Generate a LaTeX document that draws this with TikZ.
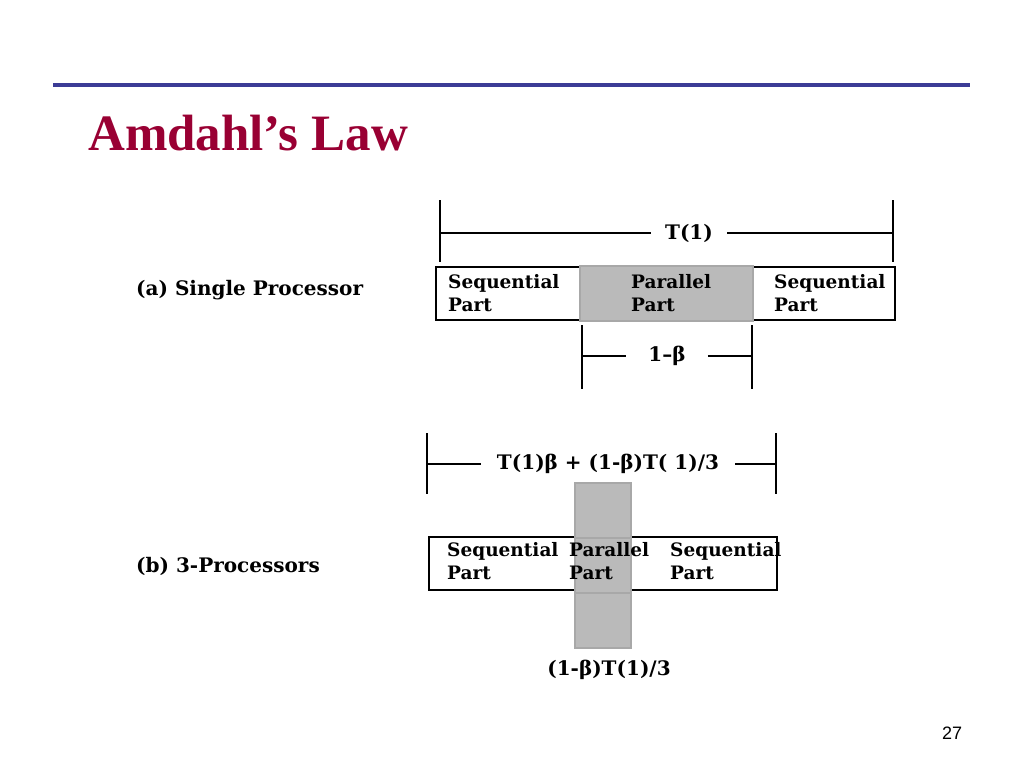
\documentclass[tikz,border=0pt]{standalone}
\usepackage{fontspec}
\setmainfont{DejaVu Serif}
\newfontfamily\titlefont{Liberation Serif}
\newfontfamily\pagefont{Liberation Sans}
\usetikzlibrary{positioning}

\definecolor{rulebl}{RGB}{60,60,150}
\definecolor{titlered}{RGB}{153,0,51}
\definecolor{pargray}{RGB}{186,186,186}
\definecolor{paredge}{RGB}{168,168,168}

\begin{document}
\begin{tikzpicture}[x=1pt, y=-1pt, dimline/.style = {line width=2.2pt},
    whole/.style = {draw, line width=2.5pt, inner sep=0pt},
    pseg/.style = {fill=pargray, draw=paredge, line width=1.5pt, inner sep=0pt},
    lbl/.style = {font=\bfseries\fontsize{20}{24}\selectfont, anchor=west, inner sep=0pt},
    dimlbl/.style = {font=\bfseries\fontsize{20}{24}\selectfont, inner ysep=0pt, inner xsep=14pt},
    parttxt/.style = {font=\bfseries\fontsize{18.5}{23}\selectfont, align=left, anchor=west, inner sep=0pt}]

        \useasboundingbox (0,0) rectangle (1024,768);

        \draw[line width=3.5pt, rulebl] (53,85) -- (970,85);
        \node[anchor=base west, inner sep=0pt, text=titlered, font=\titlefont\bfseries\fontsize{51}{56}\selectfont] (title) at (88,150) {Amdahl’s Law};

        % (a) one processor
        \node[lbl] (labA) at (136,290) {(a) Single Processor};
        \node[whole, minimum width=459pt, minimum height=53pt] (boxA) at (665.5,293.5) {};
        \node[pseg, minimum width=173pt, minimum height=55pt] (parA) at (666.5,293.5) {};
        \node[parttxt] (seqA1) at (448,293.5) {Sequential\\Part};
        \node[parttxt] (parAt) at (631,293.5) {Parallel\\Part};
        \node[parttxt] (seqA2) at (774,293.5) {Sequential\\Part};

        \coordinate (tA1) at (440,200);
        \coordinate (bA1) at (440,262);
        \coordinate (tA2) at (893,200);
        \coordinate (bA2) at (893,262);
        \node[dimlbl] (T1) at (689,233) {T(1)};
        \draw[dimline] (tA1) -- (bA1);
        \draw[dimline] (tA2) -- (bA2);
        \draw[dimline] (T1.west -| tA1) -- (T1.west);
        \draw[dimline] (T1.east) -- (T1.east -| tA2);

        \coordinate (tP1) at (582,325);
        \coordinate (bP1) at (582,389);
        \coordinate (tP2) at (752,325);
        \coordinate (bP2) at (752,389);
        \node[dimlbl, inner xsep=22pt] (onemb) at (667,356) {1–β};
        \draw[dimline] (tP1) -- (bP1);
        \draw[dimline] (tP2) -- (bP2);
        \draw[dimline] (onemb.west -| tP1) -- (onemb.west);
        \draw[dimline] (onemb.east) -- (onemb.east -| tP2);

        % (b) three processors
        \node[lbl] (labB) at (136,566) {(b) 3-Processors};
        \node[whole, minimum width=348pt, minimum height=53pt] (boxB) at (603,563.5) {};
        \foreach \y/\n in {510.5/1, 565.5/2, 620.5/3}
            \node[pseg, minimum width=56pt, minimum height=55pt] (parB\n) at (603,\y) {};
        \node[parttxt] (seqB1) at (447,561.5) {Sequential\\Part};
        \node[parttxt] (parBt) at (569,561.5) {Parallel\\Part};
        \node[parttxt] (seqB2) at (670,561.5) {Sequential\\Part};

        \coordinate (tB1) at (427,433);
        \coordinate (bB1) at (427,494);
        \coordinate (tB2) at (776,433);
        \coordinate (bB2) at (776,494);
        \node[dimlbl, inner xsep=16pt] (T3) at (608,464) {T(1)β + (1-β)T( 1)/3};
        \draw[dimline] (tB1) -- (bB1);
        \draw[dimline] (tB2) -- (bB2);
        \draw[dimline] (T3.west -| tB1) -- (T3.west);
        \draw[dimline] (T3.east) -- (T3.east -| tB2);

        \node[font=\bfseries\fontsize{20}{24}\selectfont, inner sep=0pt] (slice) at (609,670) {(1-β)T(1)/3};

        \node[font=\pagefont\fontsize{18}{20}\selectfont, inner sep=0pt] (pageno) at (952,733) {27};

    \end{tikzpicture}
\end{document}
